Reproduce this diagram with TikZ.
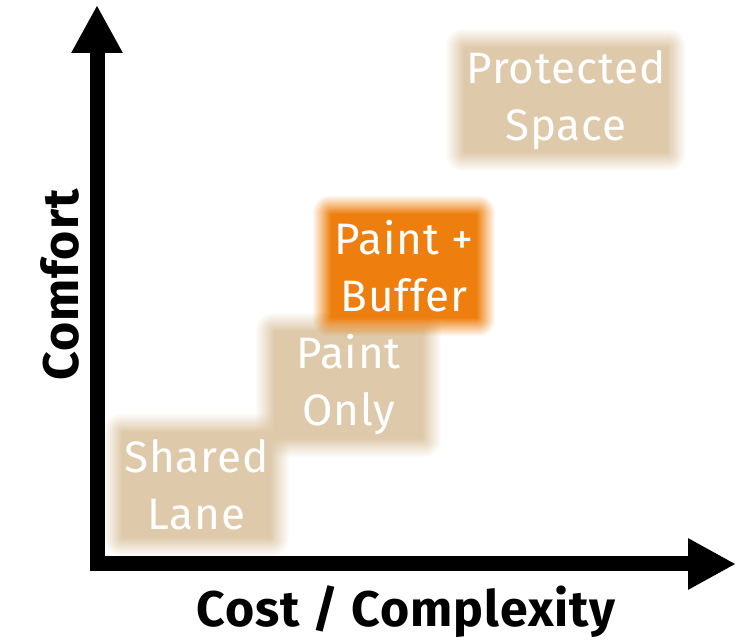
\documentclass[tikz,border=0pt]{standalone}
\usepackage{fontspec}
\setmainfont{Fira Sans}[LetterSpace=2]
\usetikzlibrary{arrows.meta,backgrounds}
\definecolor{sand}{RGB}{222,202,171}
\definecolor{hot}{RGB}{238,127,14}
% soft edged fill behind a named node
\newcommand{\softfill}[2]{%
	\foreach \k [evaluate=\k as \d using {9-(\k-1)}, evaluate=\k as \o using {1/(20-\k)}, evaluate=\k as \r using {1+0.9*(19-\k)}] in {1,...,19}
		\fill[#2,opacity=\o,rounded corners=\r pt] ([shift={(-\d,-\d)}]#1.south west) rectangle ([shift={(\d,\d)}]#1.north east);
}
\begin{document}
\begin{tikzpicture}[x=1pt,y=1pt,
		axis/.style={line width=15pt,line cap=rect,-{Triangle[length=48pt,width=48pt]}},
		level box/.style={text=white,align=center,inner sep=0pt,font=\fontsize{44}{57}\selectfont},
		axis label/.style={font=\bfseries\fontsize{50}{55}\selectfont,anchor=base}]
		\useasboundingbox (0,0) rectangle (746,644);
		\node [level box,minimum width=167,minimum height=124] (shared) at (196.5,159) {Shared\\Lane};
		\begin{scope}[on background layer] \softfill{shared}{sand} \end{scope}
		\node [level box,minimum width=167,minimum height=126] (paint) at (348.5,259) {Paint\\Only};
		\begin{scope}[on background layer] \softfill{paint}{sand} \end{scope}
		\node [level box,minimum width=164,minimum height=122] (buffer) at (404,378) {Paint +\\Buffer};
		\begin{scope}[on background layer] \softfill{buffer}{hot} \end{scope}
		\node [level box,minimum width=222,minimum height=124] (protected) at (566,544) {Protected\\Space};
		\begin{scope}[on background layer] \softfill{protected}{sand} \end{scope}
		% axes
		\coordinate (origin) at (97,80);
		\coordinate (ytip) at (97,639);
		\coordinate (xtip) at (736,80);
		\draw [axis] (origin) -- (ytip);
		\draw [axis] (origin) -- (xtip);
		\node [axis label] (xlabel) at (406,17) {Cost / Complexity};
		\node [axis label,rotate=90] (ylabel) at (78,359) {Comfort};
	\end{tikzpicture}
\end{document}
